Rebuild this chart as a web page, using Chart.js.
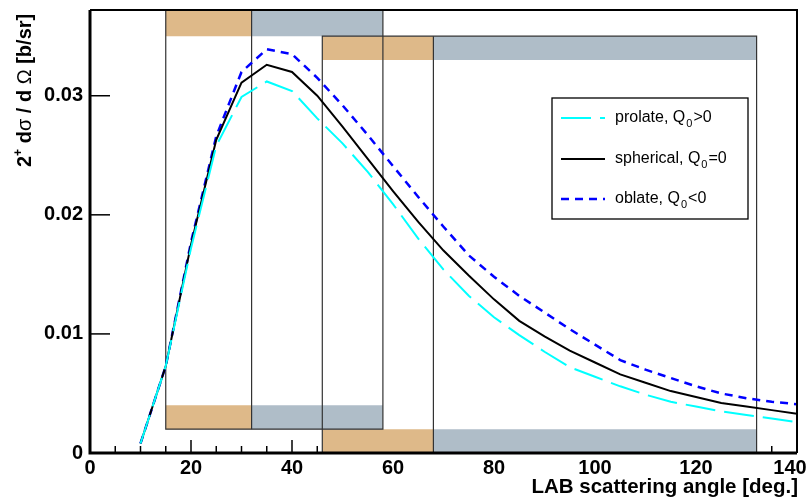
<!DOCTYPE html>
<html>
<head>
<meta charset="utf-8">
<script src="https://cdn.jsdelivr.net/npm/chart.js@4.4.1/dist/chart.umd.min.js"></script>
<style>
  html, body { margin: 0; padding: 0; background: #fff; }
  #contenedor { width: 811px; height: 500px; }
</style>
</head>
<body>
<div id="contenedor"><canvas id="grafica"></canvas></div>
<script>
// Datos (angulo LAB en grados, seccion eficaz en b/sr)
const angulos = [10, 15, 20, 25, 30, 35, 40, 45, 50, 55, 60, 65, 70, 75, 80, 85, 90, 95, 100, 105, 110, 115, 120, 125, 130, 135, 140];
const prolate   = [0.0008, 0.0073, 0.0172, 0.0258, 0.0299, 0.0312, 0.0304, 0.0281, 0.0260, 0.0236, 0.0209, 0.0180, 0.0154, 0.0132, 0.0114, 0.0099, 0.0085, 0.0072, 0.0064, 0.0056, 0.0049, 0.0043, 0.0039, 0.0035, 0.0032, 0.0029, 0.0026];
const spherical = [0.0008, 0.0073, 0.0175, 0.0263, 0.0311, 0.0326, 0.0320, 0.0300, 0.0274, 0.0247, 0.0220, 0.0194, 0.0170, 0.0149, 0.0129, 0.0111, 0.0098, 0.0086, 0.0076, 0.0066, 0.0059, 0.0052, 0.0047, 0.0042, 0.0039, 0.0036, 0.0033];
const oblate    = [0.0008, 0.0073, 0.0177, 0.0266, 0.0320, 0.0339, 0.0335, 0.0315, 0.0292, 0.0267, 0.0241, 0.0215, 0.0190, 0.0166, 0.0148, 0.0132, 0.0118, 0.0104, 0.0091, 0.0078, 0.0070, 0.0063, 0.0056, 0.0050, 0.0046, 0.0043, 0.0041];

// Cajas de los detectores: bordes en x y franjas [y0, y1]
const bordesA = [15, 32, 58];
const franjasA = [[0.035, 0.0372], [0.002, 0.004]];
const bordesB = [46, 68, 132];
const franjasB = [[0.033, 0.035], [0, 0.002]];

const nombresLeyenda = ['prolate, Q', 'spherical, Q', 'oblate, Q'];
const relacionesLeyenda = ['>0', '=0', '<0'];

const X_MAX = 140;
const Y_MAX = 0.0372;

const TOSTADO = 'rgb(222, 185, 137)';
const GRIS = 'rgb(175, 189, 200)';
const FUENTE = '"Liberation Sans", Arial, Helvetica, sans-serif';

function puntos(ys) {
    return angulos.map((x, i) => ({ x: x, y: ys[i] }));
}

// Rellena un rectangulo con el filler de Chart.js (linea arriba, relleno hasta y0)
function franja(x0, x1, y0, y1, color) {
    return {
        data: [{ x: x0, y: y1 }, { x: x1, y: y1 }],
        fill: { value: y0 },
        backgroundColor: color,
        borderWidth: 0,
        pointRadius: 0,
        order: 10
    };
}

function contorno(pts) {
    return {
        data: pts,
        fill: false,
        borderColor: '#333',
        borderWidth: 1.2,
        pointRadius: 0,
        order: 5
    };
}

const datasets = [];
[[bordesA, franjasA], [bordesB, franjasB]].forEach(([b, franjas]) => {
    franjas.forEach(([y0, y1]) => {
        datasets.push(franja(b[0], b[1], y0, y1, TOSTADO));
        datasets.push(franja(b[1], b[2], y0, y1, GRIS));
    });
});

// Contornos de las cajas
const yTopA = franjasA[0][1], yBotA = franjasA[1][0];
datasets.push(contorno([{ x: bordesA[0], y: yTopA }, { x: bordesA[0], y: yBotA }, { x: bordesA[2], y: yBotA }, { x: bordesA[2], y: yTopA }]));
datasets.push(contorno([{ x: bordesA[1], y: yTopA }, { x: bordesA[1], y: yBotA }]));
const yTopB = franjasB[0][1], yBotB = franjasB[1][0];
datasets.push(contorno([{ x: bordesB[0], y: yBotB }, { x: bordesB[0], y: yTopB }, { x: bordesB[2], y: yTopB }, { x: bordesB[2], y: yBotB }]));
datasets.push(contorno([{ x: bordesB[1], y: yTopB }, { x: bordesB[1], y: yBotB }]));

// Curvas
const curvas = [
    { label: 'prolate', data: puntos(prolate), borderColor: '#00ffff', borderWidth: 2, borderDash: [30, 9] },
    { label: 'spherical', data: puntos(spherical), borderColor: '#000000', borderWidth: 2, borderDash: [] },
    { label: 'oblate', data: puntos(oblate), borderColor: '#0000ff', borderWidth: 2.5, borderDash: [8, 6] }
];
curvas.forEach(c => {
    datasets.push(Object.assign({ fill: false, pointRadius: 0, tension: 0, order: 1 }, c));
});

function esMultiplo(v, paso) {
    return Math.abs(v / paso - Math.round(v / paso)) < 1e-6;
}

const decoracion = {
    id: 'decoracion',
    beforeDatasetsDraw(chart) {
        const ctx = chart.ctx;
        const a = chart.chartArea;
        const sx = chart.scales.x, sy = chart.scales.y;
        ctx.save();
        ctx.strokeStyle = '#000';
        ctx.lineWidth = 1.5;
        // ticks del eje x hacia dentro
        sx.ticks.forEach(t => {
            const px = sx.getPixelForValue(t.value);
            const largo = esMultiplo(t.value, 20) ? 13 : 7;
            ctx.beginPath();
            ctx.moveTo(px, a.bottom);
            ctx.lineTo(px, a.bottom - largo);
            ctx.stroke();
        });
        // ticks del eje y
        sy.ticks.forEach(t => {
            if (!esMultiplo(t.value, 0.01)) return;
            const py = sy.getPixelForValue(t.value);
            ctx.beginPath();
            ctx.moveTo(a.left, py);
            ctx.lineTo(a.left + 20, py);
            ctx.stroke();
        });
        ctx.restore();
    },
    afterDatasetsDraw(chart) {
        const ctx = chart.ctx;
        const a = chart.chartArea;
        ctx.save();
        ctx.strokeStyle = '#000';
        ctx.lineWidth = 2;
        ctx.beginPath();
        ctx.moveTo(a.left, a.top);
        ctx.lineTo(a.right, a.top);
        ctx.lineTo(a.right, a.bottom);
        ctx.stroke();
        ctx.lineWidth = 3;
        ctx.beginPath();
        ctx.moveTo(a.left, a.top);
        ctx.lineTo(a.left, a.bottom);
        ctx.lineTo(a.right, a.bottom);
        ctx.stroke();
        ctx.restore();
    },
    afterDraw(chart) {
        const ctx = chart.ctx;
        const a = chart.chartArea;
        ctx.save();
        ctx.fillStyle = '#000';

        // titulo eje x
        ctx.font = 'bold 20.5px ' + FUENTE;
        ctx.textAlign = 'right';
        ctx.textBaseline = 'alphabetic';
        ctx.fillText('LAB scattering angle [deg.]', a.right + 1, 493);

        // titulo eje y (girado), por trozos
        ctx.save();
        ctx.translate(31, 167);
        ctx.rotate(-Math.PI / 2);
        ctx.textAlign = 'left';
        const trozos = [
            ['2', 'bold 20px ', 0],
            ['+', 'bold 12px ', -9],
            [' d', 'bold 20px ', 0],
            ['\u03c3', '20px ', 0],
            [' / d ', 'bold 20px ', 0],
            ['\u03a9', '20px ', 0],
            [' [b/sr]', 'bold 20px ', 0]
        ];
        let x = 0;
        trozos.forEach(([txt, f, dy]) => {
            ctx.font = f + FUENTE;
            ctx.fillText(txt, x, dy);
            x += ctx.measureText(txt).width;
        });
        ctx.restore();

        // leyenda
        const caja = { x: 552, y: 98, w: 196, h: 121 };
        ctx.lineWidth = 1.3;
        ctx.strokeStyle = '#000';
        ctx.fillStyle = '#fff';
        ctx.fillRect(caja.x, caja.y, caja.w, caja.h);
        ctx.strokeRect(caja.x, caja.y, caja.w, caja.h);
        const filas = [118, 159, 199];
        curvas.forEach((c, i) => {
            const y = filas[i];
            ctx.save();
            ctx.strokeStyle = c.borderColor;
            ctx.lineWidth = c.borderWidth;
            ctx.setLineDash(c.borderDash);
            ctx.beginPath();
            ctx.moveTo(561, y);
            ctx.lineTo(605, y);
            ctx.stroke();
            ctx.restore();

            ctx.fillStyle = '#000';
            ctx.textAlign = 'left';
            ctx.font = '16px ' + FUENTE;
            let tx = 615;
            const base = y + 4;
            ctx.fillText(nombresLeyenda[i], tx, base);
            tx += ctx.measureText(nombresLeyenda[i]).width + 1;
            ctx.font = '11px ' + FUENTE;
            ctx.fillText('0', tx, base + 5);
            tx += ctx.measureText('0').width + 1;
            ctx.font = '16px ' + FUENTE;
            ctx.fillText(relacionesLeyenda[i], tx, base);
        });
        ctx.restore();
    }
};

const ctx = document.getElementById('grafica').getContext('2d');

const miGrafica = new Chart(ctx, {
    type: 'line',
    data: { datasets: datasets },
    options: {
        responsive: true,
        maintainAspectRatio: false,
        animation: false,
        devicePixelRatio: 1,
        layout: { padding: { top: 10, right: 14, left: 0, bottom: 0 } },
        plugins: {
            legend: { display: false },
            tooltip: { enabled: false }
        },
        scales: {
            x: {
                type: 'linear',
                min: 0,
                max: X_MAX,
                grid: { display: false, drawTicks: false },
                border: { display: false },
                ticks: {
                    stepSize: 5,
                    autoSkip: false,
                    maxRotation: 0,
                    padding: 3,
                    color: '#000',
                    font: { family: FUENTE, size: 20, weight: 'bold' },
                    // la ultima etiqueta se corre un poco a la izquierda para que quepa
                    callback: v => esMultiplo(v, 20) ? (v === X_MAX ? v + '\u2002\u2009' : String(v)) : ''
                },
                afterFit: s => { s.height = 47; s.paddingLeft = 0; s.paddingRight = 0; }
            },
            y: {
                type: 'linear',
                min: 0,
                max: Y_MAX,
                grid: { display: false, drawTicks: false },
                border: { display: false },
                ticks: {
                    stepSize: 0.01,
                    autoSkip: false,
                    padding: 7,
                    color: '#000',
                    font: { family: FUENTE, size: 20, weight: 'bold' },
                    callback: v => esMultiplo(v, 0.01) ? String(Math.round(v * 100) / 100) : ''
                },
                afterFit: s => { s.width = 90; s.paddingTop = 0; s.paddingBottom = 0; }
            }
        }
    },
    plugins: [decoracion]
});
</script>
</body>
</html>
